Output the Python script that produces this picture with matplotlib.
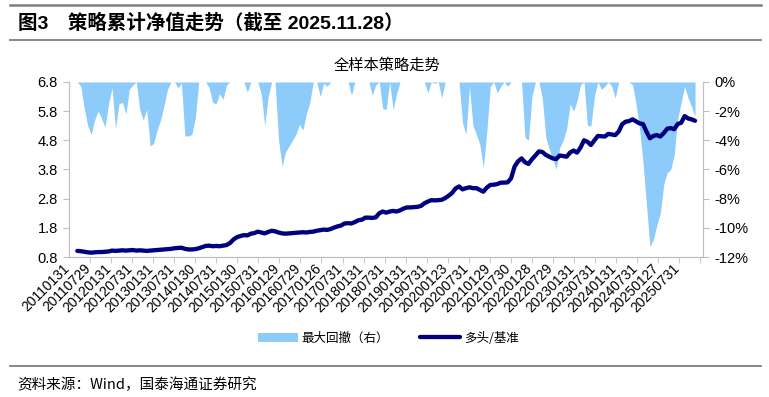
import matplotlib
matplotlib.use('Agg')

import matplotlib.pyplot as plt
import numpy as np

# month-end series, 2011-01 .. 2025-11
nav = [1.01, 1.00, 0.98, 0.96, 0.95, 0.96, 0.97, 0.97, 0.98, 0.99,
       1.02, 1.01, 1.02, 1.03, 1.02, 1.03, 1.04, 1.02, 1.03, 1.02,
       1.01, 1.02, 1.03, 1.04, 1.05, 1.06, 1.07, 1.08, 1.10, 1.11,
       1.12, 1.08, 1.06, 1.06, 1.07, 1.10, 1.14, 1.18, 1.19, 1.17,
       1.18, 1.17, 1.19, 1.21, 1.28, 1.40, 1.48, 1.52, 1.55, 1.54,
       1.60, 1.62, 1.67, 1.64, 1.61, 1.66, 1.70, 1.68, 1.64, 1.61,
       1.60, 1.61, 1.62, 1.63, 1.64, 1.65, 1.64, 1.66, 1.67, 1.70,
       1.72, 1.74, 1.73, 1.76, 1.81, 1.85, 1.88, 1.95, 1.96, 1.95,
       2.00, 2.06, 2.08, 2.15, 2.15, 2.14, 2.16, 2.30, 2.36, 2.32,
       2.36, 2.38, 2.36, 2.40, 2.46, 2.50, 2.50, 2.51, 2.52, 2.55,
       2.64, 2.70, 2.75, 2.74, 2.75, 2.76, 2.82, 2.90, 3.00, 3.15,
       3.22, 3.12, 3.16, 3.19, 3.16, 3.16, 3.10, 3.04, 3.18, 3.27,
       3.28, 3.30, 3.35, 3.35, 3.36, 3.50, 3.90, 4.08, 4.18, 4.05,
       3.99, 4.15, 4.28, 4.42, 4.40, 4.30, 4.24, 4.18, 4.16, 4.28,
       4.26, 4.24, 4.38, 4.45, 4.38, 4.55, 4.80, 4.75, 4.64, 4.80,
       4.95, 4.94, 4.93, 5.02, 5.00, 4.98, 5.10, 5.35, 5.44, 5.46,
       5.52, 5.45, 5.38, 5.36, 5.10, 4.87, 4.95, 4.98, 4.93, 5.05,
       5.20, 5.22, 5.18, 5.36, 5.40, 5.63, 5.55, 5.52, 5.47]

drawdown = [0.0, -0.3, -1.8, -3.0, -3.6, -2.6, -2.0, -2.5, -3.1, -1.5,
            -0.4, -3.2, -1.5, -1.4, -2.2, -0.5, -0.2, 0.0, -1.9, -2.6,
            -1.9, -4.4, -4.2, -3.3, -2.6, -1.6, -0.5, 0.0, 0.0, -0.4,
            -0.1, -3.7, -3.7, -3.6, -2.5, 0.0, 0.0, 0.0, -0.4, -1.4,
            -1.5, -0.8, -1.2, -0.2, 0.0, 0.0, 0.0, 0.0, 0.0, -0.7,
            0.0, 0.0, 0.0, -0.8, -3.0, -1.0, 0.0, 0.0, -4.0, -5.8,
            -4.8, -4.4, -4.0, -3.6, -2.9, -3.3, -2.2, -1.4, 0.0, 0.0,
            -1.0, -0.1, -0.3, 0.0, 0.0, 0.0, 0.0, 0.0, 0.0, -0.9,
            0.0, 0.0, 0.0, 0.0, 0.0, -0.9, -0.2, 0.0, -1.8, -1.9,
            0.0, -1.9, -0.8, 0.0, 0.0, 0.0, 0.0, 0.0, 0.0, 0.0,
            0.0, -0.75, 0.0, -0.1, 0.0, -1.1, 0.0, 0.0, 0.0, 0.0,
            0.0, -2.8, -3.6, -0.3, -3.0, -3.6, -4.3, -5.9, -3.4, -0.3,
            0.0, -0.75, -0.3, 0.0, -0.3, 0.0, 0.0, 0.0, 0.0, -3.8,
            -4.0, -1.0, 0.0, 0.0, -1.1, -3.8, -4.6, -5.3, -6.0, -4.5,
            -4.0, -3.2, -1.5, -2.0, -1.3, -0.2, 0.0, -3.0, -3.0, -1.0,
            0.0, -0.5, -0.3, 0.0, -0.3, -1.1, 0.0, 0.0, 0.0, 0.0,
            -0.2, -1.5, -3.2, -5.5, -8.4, -11.3, -10.8, -9.8, -9.0, -7.0,
            -6.2, -6.0, -5.0, -2.5, -1.4, -0.3, -1.1, -1.7, -2.35]

date_labels = ['20110131', '20110729', '20120131', '20120731', '20130131',
               '20130731', '20140130', '20140731', '20150130', '20150731',
               '20160129', '20160729', '20170126', '20170731', '20180131',
               '20180731', '20190131', '20190731', '20200123', '20200731',
               '20210129', '20210730', '20220128', '20220729', '20230131',
               '20230731', '20240131', '20240731', '20250127', '20250731']

CJK = ['Noto Sans CJK SC', 'DejaVu Sans']
LAT = ['Liberation Sans', 'Noto Sans CJK SC']
GRAY = '#BFBFBF'

x = np.arange(len(nav))

fig = plt.figure(figsize=(7.69, 3.97), dpi=100)
ax = fig.add_axes([0.0897, 0.3526, 0.8245, 0.4409])
ax2 = ax.twinx()

#drawdown area on the right axis, drawn behind the line
ax2.fill_between(x, drawdown, 0, color='#8DCBFB', linewidth=0, label='最大回撤（右）')
ax2.set_ylim(-12, 0)
ax2.set_yticks(np.arange(-12, 1, 2))
ax2.set_yticklabels(['%d%%' % v for v in np.arange(-12, 1, 2)], family=LAT, fontsize=10.5)

ax.plot(x, nav, color='#000080', linewidth=3.1, solid_capstyle='round', label='多头/基准')
ax.set_ylim(0.8, 6.8)
ax.set_yticks(np.arange(0.8, 6.81, 1.0))
ax.set_yticklabels(['%.1f' % v for v in np.arange(0.8, 6.81, 1.0)], family=LAT, fontsize=10.5)
ax.set_zorder(ax2.get_zorder() + 1)
ax.patch.set_visible(False)

ax.set_xlim(-2.4, 180.3)
step = 6.06
ax.set_xticks(np.arange(len(date_labels)) * step - 1.5)
ax.set_xticklabels(date_labels, rotation=45, ha='right', family=LAT, fontsize=10)
ax.set_xticks(np.arange(len(date_labels)) * step + 3.7, minor=True)
ax.tick_params(axis='x', which='major', length=0, pad=3)
ax.tick_params(axis='x', which='minor', length=4, color=GRAY, direction='out')

for a in (ax, ax2):
	a.spines['top'].set_visible(False)
	for s in ('left', 'right', 'bottom'):
		a.spines[s].set_color(GRAY)
	a.tick_params(axis='y', length=4, color=GRAY, pad=4)
ax2.tick_params(axis='x', length=0)

#titles, rules and source
fig.add_artist(plt.Line2D([0.013, 0.99], [1 - 5 / 397, 1 - 5 / 397], color='#7F7F7F', linewidth=1.8))
fig.add_artist(plt.Line2D([0.013, 0.99], [1 - 40 / 397, 1 - 40 / 397], color='#7F7F7F', linewidth=1.3))
fig.add_artist(plt.Line2D([0.013, 0.99], [1 - 366 / 397, 1 - 366 / 397], color='#7F7F7F', linewidth=1.3))
fig.text(0.023, 1 - 23 / 397, '图3\u3000策略累计净值走势（截至 2025.11.28）', family=LAT,
	fontsize=14, fontweight='bold', va='center', ha='left')
fig.text(0.503, 1 - 65 / 397, '全样本策略走势', family=CJK, fontsize=11, va='center', ha='center')
fig.text(0.023, 1 - 385 / 397, '资料来源：Wind，国泰海通证券研究', family=CJK, fontsize=10.5,
	va='center', ha='left')

h1, l1 = ax2.get_legend_handles_labels()
h2, l2 = ax.get_legend_handles_labels()
fig.legend(h1 + h2, l1 + l2, loc='center', bbox_to_anchor=(0.505, 1 - 338 / 397), ncol=2,
	frameon=False, prop={'family': CJK, 'size': 9}, handlelength=3.2, columnspacing=2.5,
	handletextpad=0.3)

plt.savefig('out.png', dpi=100)
